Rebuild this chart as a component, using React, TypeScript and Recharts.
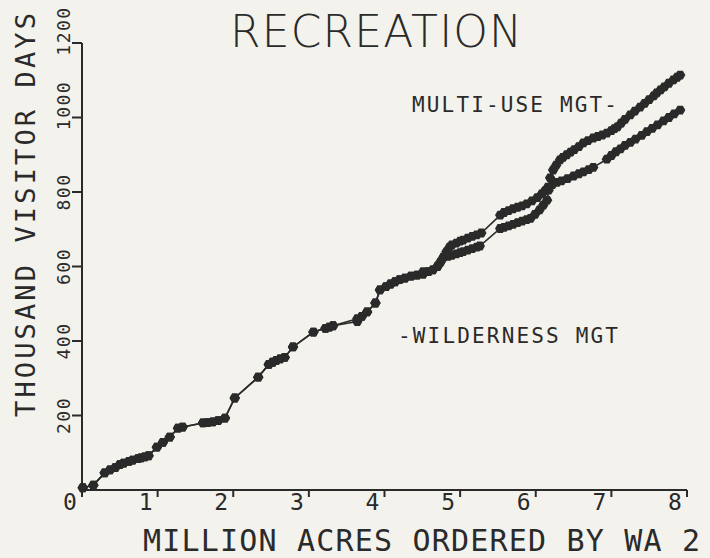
import { LineChart, Line, XAxis, YAxis } from "recharts";

// points: x = million acres, y = thousand visitor days
// both series run together up to ~3.3
const sharedX = [0.01, 0.15, 0.3, 0.37, 0.44, 0.5, 0.55, 0.62, 0.67, 0.74, 0.78, 0.83, 0.88, 0.99, 1.07, 1.16, 1.27, 1.33, 1.6, 1.66, 1.73, 1.8, 1.89, 2.02, 2.33, 2.47, 2.52, 2.57, 2.62, 2.68, 2.79, 3.06, 3.22, 3.27, 3.32];
const sharedY = [6, 13, 46, 54, 60, 68, 72, 77, 80, 84, 86, 89, 92, 115, 128, 142, 166, 169, 180, 181, 183, 186, 193, 247, 303, 337, 343, 348, 352, 356, 384, 424, 434, 437, 441];

const multiUseX = [3.64, 3.7, 3.77, 3.88, 3.94, 4.02, 4.08, 4.14, 4.2, 4.27, 4.35, 4.43, 4.51, 4.58, 4.64, 4.7, 4.74, 4.78, 4.84, 4.89, 4.95, 5.0, 5.04, 5.1, 5.16, 5.22, 5.26, 5.53, 5.58, 5.64, 5.7, 5.76, 5.82, 5.88, 5.93, 5.99, 6.05, 6.1, 6.15, 6.17, 6.19, 6.23, 6.27, 6.32, 6.36, 6.41, 6.46, 6.51, 6.57, 6.63, 6.69, 6.76, 6.82, 6.88, 6.94, 7.0, 7.04, 7.08, 7.13, 7.18, 7.25, 7.31, 7.38, 7.44, 7.5, 7.56, 7.6, 7.65, 7.7, 7.76, 7.82, 7.87, 7.91];
const multiUseY = [452, 466, 478, 502, 537, 546, 553, 559, 565, 569, 574, 577, 579, 586, 591, 600, 612, 625, 627, 630, 634, 637, 640, 644, 648, 652, 655, 702, 705, 709, 713, 718, 722, 726, 729, 740, 752, 765, 778, 805, 838, 859, 872, 886, 893, 900, 907, 914, 922, 932, 938, 945, 949, 953, 958, 965, 970, 975, 985, 995, 1007, 1017, 1028, 1038, 1048, 1058, 1066, 1074, 1082, 1092, 1101, 1108, 1114];

const wildernessX = [3.64, 3.7, 3.77, 3.88, 3.94, 4.02, 4.08, 4.14, 4.2, 4.27, 4.35, 4.43, 4.51, 4.58, 4.64, 4.7, 4.74, 4.78, 4.82, 4.86, 4.89, 4.95, 5.0, 5.04, 5.1, 5.16, 5.22, 5.28, 5.53, 5.58, 5.64, 5.7, 5.76, 5.82, 5.88, 5.95, 6.02, 6.08, 6.12, 6.16, 6.22, 6.28, 6.34, 6.42, 6.5, 6.57, 6.63, 6.7, 6.76, 6.94, 7.0, 7.06, 7.12, 7.18, 7.25, 7.32, 7.4, 7.47, 7.54, 7.61, 7.69, 7.76, 7.83, 7.91];
const wildernessY = [460, 466, 478, 502, 537, 546, 553, 559, 565, 569, 574, 577, 586, 586, 591, 600, 612, 625, 640, 652, 658, 663, 668, 671, 676, 681, 685, 690, 738, 745, 750, 755, 759, 763, 768, 776, 785, 795, 803, 813, 820, 826, 830, 836, 843, 849, 854, 860, 866, 888, 898, 908, 916, 925, 933, 942, 952, 962, 971, 980, 991, 1000, 1010, 1020];

const xTicks = [0, 1, 2, 3, 4, 5, 6, 7, 8];
const yTicks = [200, 400, 600, 800, 1000, 1200];

const INK = "#2a2a2a";
const PAPER = "#f3f2ec";
const MONO = "'DejaVu Sans Mono', monospace";

function toRows(xs: number[], ys: number[]) {
  return xs.map((x, i) => ({ x, y: ys[i] }));
}

const multiUse = [...toRows(sharedX, sharedY), ...toRows(multiUseX, multiUseY)];
const wilderness = [...toRows(sharedX, sharedY), ...toRows(wildernessX, wildernessY)];

// plotter-style blob marker
function Marker(props: any) {
  const { cx, cy, index } = props;
  if (cx == null || cy == null) return null;
  const w = 5.2;
  const h = 4.4;
  return (
    <polygon
      key={`m-${index}`}
      points={`${cx - w},${cy} ${cx - w / 2},${cy - h} ${cx + w / 2},${cy - h} ${cx + w},${cy} ${cx + w / 2},${cy + h} ${cx - w / 2},${cy + h}`}
      fill={INK}
    />
  );
}

function XTick({ x, payload }: any) {
  return (
    <text x={x - 12} y={510} textAnchor="middle" fontFamily={MONO} fontSize={23} fill={INK}>
      {payload.value}
    </text>
  );
}

function YTick({ y, payload }: any) {
  const label = String(payload.value);
  const shift = label.length > 3 ? -12 : 0;
  return (
    <text
      transform={`translate(70, ${y + shift}) rotate(-90)`}
      textAnchor="middle"
      fontFamily={MONO}
      fontSize={18}
      letterSpacing={1.5}
      fill={INK}
    >
      {label}
    </text>
  );
}

export default function App() {
  return (
    <div style={{ position: "absolute", left: 0, top: 0, width: 710, height: 558, background: PAPER }}>
      <LineChart width={710} height={558} data={multiUse} margin={{ top: 43, right: 23, bottom: 0, left: 0 }}>
        <XAxis
          type="number"
          dataKey="x"
          domain={[0, 8]}
          ticks={xTicks}
          height={68}
          tickSize={7}
          axisLine={{ stroke: INK, strokeWidth: 2 }}
          tickLine={{ stroke: INK, strokeWidth: 2 }}
          tick={<XTick />}
          interval={0}
        />
        <YAxis
          type="number"
          domain={[0, 1200]}
          ticks={yTicks}
          width={82}
          tickSize={10}
          axisLine={{ stroke: INK, strokeWidth: 2 }}
          tickLine={{ stroke: INK, strokeWidth: 2 }}
          tick={<YTick />}
          interval={0}
        />
        <Line
          data={multiUse}
          dataKey="y"
          name="Multi-use MGT"
          stroke={INK}
          strokeWidth={1.6}
          dot={Marker}
          isAnimationActive={false}
        />
        <Line
          data={wilderness}
          dataKey="y"
          name="Wilderness MGT"
          stroke={INK}
          strokeWidth={1.6}
          dot={Marker}
          isAnimationActive={false}
        />
      </LineChart>
      <svg width={710} height={558} style={{ position: "absolute", left: 0, top: 0, pointerEvents: "none" }}>
        <text x={230} y={47} fontFamily="'DejaVu Sans', sans-serif" fontWeight={200} fontSize={44} textLength={292} lengthAdjust="spacing" fill={INK}>
          RECREATION
        </text>
        <text transform="translate(35, 215) rotate(-90)" textAnchor="middle" fontFamily={MONO} fontSize={27} textLength={404} lengthAdjust="spacing" fill={INK}>
          THOUSAND VISITOR DAYS
        </text>
        <text x={143} y={551} fontFamily={MONO} fontSize={30} textLength={557} lengthAdjust="spacing" fill={INK}>
          MILLION ACRES ORDERED BY WA 2
        </text>
        <text x={412} y={112} fontFamily={MONO} fontSize={21} textLength={205} lengthAdjust="spacing" fill={INK}>
          MULTI-USE MGT-
        </text>
        <text x={398} y={343} fontFamily={MONO} fontSize={21} textLength={220} lengthAdjust="spacing" fill={INK}>
          -WILDERNESS MGT
        </text>
      </svg>
    </div>
  );
}
